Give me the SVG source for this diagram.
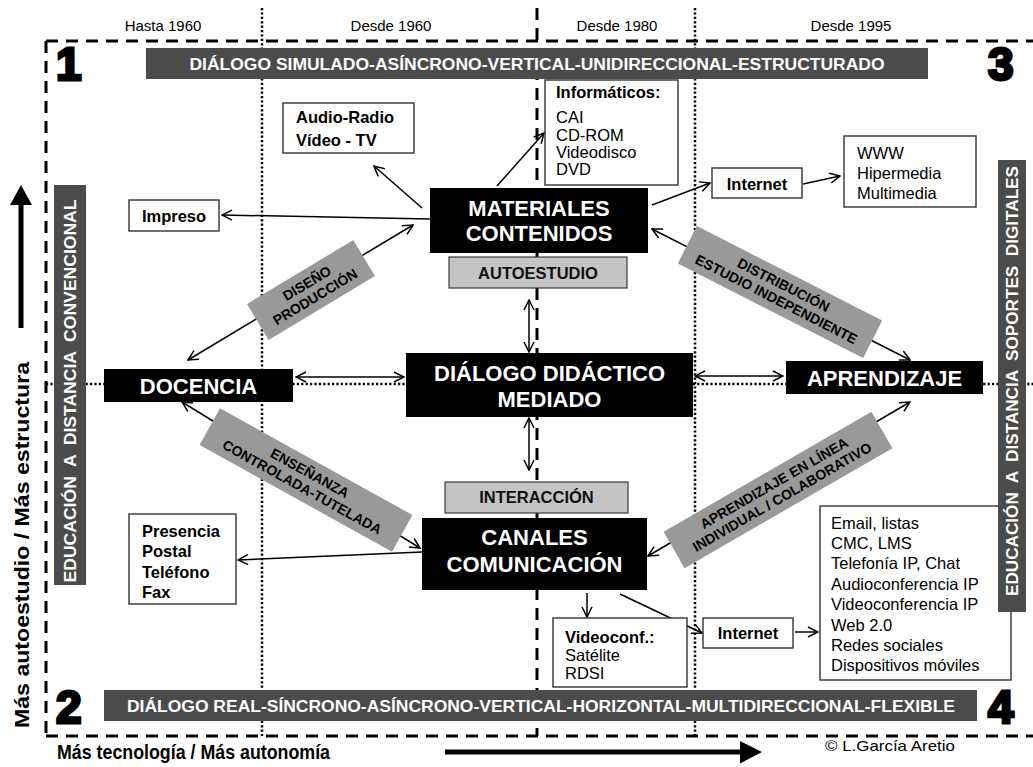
<svg xmlns="http://www.w3.org/2000/svg" width="1033" height="767" viewBox="0 0 1033 767">
<defs>
<style>
text{font-family:"Liberation Sans",Arial,sans-serif}
.yr{font-size:15px;fill:#000;text-anchor:middle}
.num{font-size:46px;font-weight:bold;fill:#000;stroke:#000;stroke-width:3}
.ban{fill:#4b4b4b}
.bant{font-size:16px;font-weight:bold;fill:#fff;text-anchor:middle;white-space:pre}
.blk{fill:#000}
.blkt{font-size:22px;font-weight:bold;fill:#fff;text-anchor:middle}
.gry{fill:#c4c4c4;stroke:#3a3a3a;stroke-width:1.2}
.gryt{font-size:16.5px;font-weight:bold;fill:#111;text-anchor:middle}
.wb{fill:#fff;stroke:#333;stroke-width:1.4}
.bt{font-size:16.5px;font-weight:bold;fill:#000}
.rt{font-size:16.5px;fill:#000}
.lab{fill:#999}
.labt{font-size:14px;font-weight:bold;fill:#000;text-anchor:middle}
.con{stroke:#000;stroke-width:1.5;fill:none}
.dash{stroke:#000;stroke-width:3;stroke-dasharray:12 8;fill:none}
.dot{stroke:#000;stroke-width:2.5;stroke-dasharray:2.2 2.2;fill:none}
.axt{font-size:21px;font-weight:bold;fill:#000}
</style>
<marker id="ah" viewBox="0 0 12 12" refX="11" refY="6" markerWidth="12" markerHeight="12" markerUnits="userSpaceOnUse" orient="auto-start-reverse">
<path d="M1,1 L11,6 L1,11" fill="none" stroke="#000" stroke-width="1.5"/>
</marker>
</defs>
<rect width="1033" height="767" fill="#fff"/>

<g id="grid">
<path class="dash" d="M46,41 H1033 M46,41 V736 M46,736 H1033"/>
<path class="dash" d="M537,8 V736" stroke-dasharray="10 8"/>
<path class="dot" d="M262,8 V736 M695,8 V736 M46,384 H1033"/>
</g>

<g id="headers">
<text class="yr" x="163" y="31">Hasta 1960</text>
<text class="yr" x="391" y="31">Desde 1960</text>
<text class="yr" x="617" y="31">Desde 1980</text>
<text class="yr" x="851" y="31">Desde 1995</text>
<text class="num" x="56" y="80">1</text>
<text class="num" x="988" y="80">3</text>
<text class="num" x="56" y="723">2</text>
<text class="num" x="988" y="723">4</text>
</g>

<g id="banner-top"><rect class="ban" x="146" y="48" width="782" height="31"/>
<text class="bant" x="537" y="70" textLength="695" lengthAdjust="spacingAndGlyphs">DIÁLOGO SIMULADO-ASÍNCRONO-VERTICAL-UNIDIRECCIONAL-ESTRUCTURADO</text></g>
<g id="banner-bottom"><rect class="ban" x="104" y="690" width="873" height="31"/>
<text class="bant" x="541" y="712" textLength="828" lengthAdjust="spacingAndGlyphs">DIÁLOGO REAL-SÍNCRONO-ASÍNCRONO-VERTICAL-HORIZONTAL-MULTIDIRECCIONAL-FLEXIBLE</text></g>

<g id="axes">
<path d="M18.5,328 V205 H10 L21,185 L32,205 H23.5 V328 Z" fill="#000"/>
<text class="axt" transform="translate(29,545) rotate(-90)" text-anchor="middle" font-size="22" textLength="366" lengthAdjust="spacingAndGlyphs">Más autoestudio / Más estructura</text>
<text class="axt" x="57" y="759" textLength="273" lengthAdjust="spacingAndGlyphs">Más tecnología / Más autonomía</text>
<path d="M445,749.5 H740 V741 L762,752 L740,763.5 V754.5 H445 Z" fill="#000"/>
<text x="825" y="751" font-size="15" fill="#000" textLength="130" lengthAdjust="spacingAndGlyphs">© L.García Aretio</text>
</g>

<g id="connectors">
<path class="con" marker-end="url(#ah)" d="M422,208 L374,166"/>
<path class="con" marker-end="url(#ah)" d="M430,219 L222,215"/>
<path class="con" marker-end="url(#ah)" d="M497,186 L544,133"/>
<path class="con" marker-end="url(#ah)" d="M652,205 L710,183"/>
<path class="con" marker-end="url(#ah)" d="M803,184 L840,176"/>
<path class="con" marker-start="url(#ah)" marker-end="url(#ah)" d="M188,360 L413,225"/>
<path class="con" marker-start="url(#ah)" marker-end="url(#ah)" d="M652,229 L910,360"/>
<path class="con" marker-start="url(#ah)" marker-end="url(#ah)" d="M296,377 L404,377"/>
<path class="con" marker-start="url(#ah)" marker-end="url(#ah)" d="M695,376 L783,376"/>
<path class="con" marker-start="url(#ah)" marker-end="url(#ah)" d="M529,300 L529,352"/>
<path class="con" marker-start="url(#ah)" marker-end="url(#ah)" d="M529,418 L529,470"/>
<path class="con" marker-start="url(#ah)" marker-end="url(#ah)" d="M182,402 L420,548"/>
<path class="con" marker-end="url(#ah)" d="M422,552 L238,560"/>
<path class="con" marker-start="url(#ah)" marker-end="url(#ah)" d="M910,402 L648,556"/>
<path class="con" marker-end="url(#ah)" d="M587,593 L587,617"/>
<path class="con" marker-end="url(#ah)" d="M620,594 L702,633"/>
<path class="con" marker-end="url(#ah)" d="M795,632 L818,632"/>
</g>

<g id="label-diseno" transform="translate(311,290) rotate(-31)">
<rect class="lab" x="-62" y="-21" width="124" height="42"/>
<text class="labt" x="0" y="-3">DISEÑO</text>
<text class="labt" x="0" y="13">PRODUCCIÓN</text>
</g>
<g id="label-distribucion" transform="translate(780,292) rotate(27)">
<rect class="lab" x="-104" y="-21" width="208" height="42"/>
<text class="labt" x="0" y="-3">DISTRIBUCIÓN</text>
<text class="labt" x="0" y="13">ESTUDIO INDEPENDIENTE</text>
</g>
<g id="label-ensenanza" transform="translate(306,480) rotate(29)">
<rect class="lab" x="-110" y="-21" width="220" height="42"/>
<text class="labt" x="0" y="-3">ENSEÑANZA</text>
<text class="labt" x="0" y="13">CONTROLADA-TUTELADA</text>
</g>
<g id="label-enlinea" transform="translate(778,490) rotate(-30)">
<rect class="lab" x="-120" y="-21" width="240" height="42"/>
<text class="labt" x="0" y="-3">APRENDIZAJE EN LÍNEA</text>
<text class="labt" x="0" y="13">INDIVIDUAL / COLABORATIVO</text>
</g>

<g id="banner-left"><rect class="ban" x="54" y="185" width="32" height="400"/>
<text class="bant" transform="translate(76,391) rotate(-90)" textLength="383" lengthAdjust="spacingAndGlyphs">EDUCACIÓN  A  DISTANCIA  CONVENCIONAL</text></g>

<g id="node-materiales"><rect class="blk" x="430" y="188" width="218" height="65"/>
<text class="blkt" x="539" y="216">MATERIALES</text><text class="blkt" x="539" y="241">CONTENIDOS</text></g>
<g id="node-autoestudio"><rect class="gry" x="449" y="257" width="178" height="31"/>
<text class="gryt" x="538" y="279">AUTOESTUDIO</text></g>
<g id="node-dialogo"><rect class="blk" x="406" y="353" width="287" height="64"/>
<text class="blkt" x="549.5" y="381" font-size="23">DIÁLOGO DIDÁCTICO</text><text class="blkt" x="549.5" y="407" font-size="23">MEDIADO</text></g>
<g id="node-interaccion"><rect class="gry" x="445" y="482" width="183" height="31"/>
<text class="gryt" x="536.5" y="503">INTERACCIÓN</text></g>
<g id="node-canales"><rect class="blk" x="422" y="518" width="225" height="72"/>
<text class="blkt" x="534.5" y="545">CANALES</text><text class="blkt" x="534.5" y="572">COMUNICACIÓN</text></g>
<g id="node-docencia"><rect class="blk" x="104" y="369" width="189" height="33"/>
<text class="blkt" x="198.5" y="394">DOCENCIA</text></g>
<g id="node-aprendizaje"><rect class="blk" x="786" y="361" width="197" height="33"/>
<text class="blkt" x="884.5" y="386">APRENDIZAJE</text></g>

<g id="node-audio"><rect class="wb" x="283" y="103" width="131" height="50"/>
<text class="bt" x="296" y="123">Audio-Radio</text><text class="bt" x="296" y="146">Vídeo - TV</text></g>
<g id="node-impreso"><rect class="wb" x="129" y="200" width="90" height="31"/>
<text class="bt" x="174" y="222" text-anchor="middle">Impreso</text></g>
<g id="node-informaticos"><rect class="wb" x="545" y="80" width="133" height="105"/>
<text class="bt" x="556" y="98">Informáticos:</text>
<text class="rt" x="556" y="123">CAI</text><text class="rt" x="556" y="141">CD-ROM</text>
<text class="rt" x="556" y="158">Videodisco</text><text class="rt" x="556" y="175">DVD</text></g>
<g id="node-internet1"><rect class="wb" x="712" y="168" width="90" height="30"/>
<text class="bt" x="757" y="190" text-anchor="middle">Internet</text></g>
<g id="node-www"><rect class="wb" x="844" y="136" width="132" height="71"/>
<text class="rt" x="857" y="159">WWW</text><text class="rt" x="857" y="179">Hipermedia</text><text class="rt" x="857" y="199">Multimedia</text></g>
<g id="node-presencia"><rect class="wb" x="129" y="514" width="107" height="90"/>
<text class="bt" x="142" y="537">Presencia</text><text class="bt" x="142" y="557">Postal</text>
<text class="bt" x="142" y="578">Teléfono</text><text class="bt" x="142" y="598">Fax</text></g>
<g id="node-videoconf"><rect class="wb" x="553" y="618" width="134" height="69"/>
<text class="bt" x="565" y="643">Videoconf.:</text><text class="rt" x="565" y="661">Satélite</text><text class="rt" x="565" y="679">RDSI</text></g>
<g id="node-internet2"><rect class="wb" x="703" y="618" width="90" height="30"/>
<text class="bt" x="748" y="639" text-anchor="middle">Internet</text></g>
<g id="node-email"><rect class="wb" x="820" y="506" width="191" height="174"/>
<text class="rt" x="831" y="529">Email, listas</text>
<text class="rt" x="831" y="549">CMC, LMS</text>
<text class="rt" x="831" y="569">Telefonía IP, Chat</text>
<text class="rt" x="831" y="590">Audioconferencia IP</text>
<text class="rt" x="831" y="610">Videoconferencia IP</text>
<text class="rt" x="831" y="631">Web 2.0</text>
<text class="rt" x="831" y="651">Redes sociales</text>
<text class="rt" x="831" y="671">Dispositivos móviles</text></g>

<g id="banner-right"><rect class="ban" x="998" y="160" width="28" height="452"/>
<text class="bant" transform="translate(1018,381) rotate(-90)" textLength="430" lengthAdjust="spacingAndGlyphs">EDUCACIÓN  A  DISTANCIA  SOPORTES  DIGITALES</text></g>
</svg>
